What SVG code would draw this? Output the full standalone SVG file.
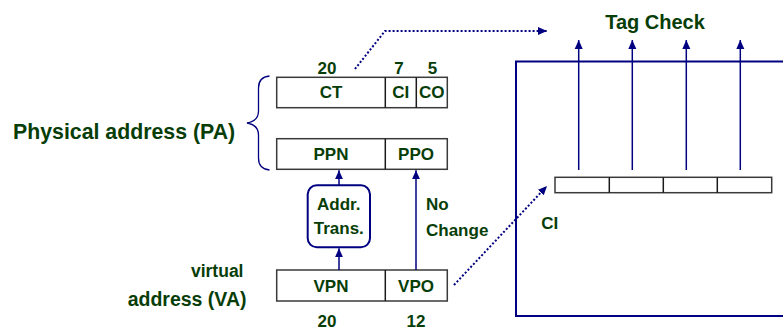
<svg xmlns="http://www.w3.org/2000/svg" width="783" height="330" viewBox="0 0 783 330">
  <style>
    .t { font-family: "Liberation Sans", Arial, sans-serif; font-weight: bold; fill: #073d07; font-size: 17px; }
    .c { text-anchor: middle; }
    .e { text-anchor: end; }
    .box { fill: #ffffff; stroke: #3a3a3a; stroke-width: 1.5; }
    .div { stroke: #1a1a1a; stroke-width: 1.5; fill: none; }
    .nav { stroke: #000080; fill: none; }
    .arr { stroke: #000080; stroke-width: 1.5; fill: none; marker-end: url(#ah); }
    .dot { stroke: #000080; stroke-width: 2; stroke-dasharray: 2 2; fill: none; marker-end: url(#ah); }
  </style>
  <defs>
    <marker id="ah" markerUnits="userSpaceOnUse" markerWidth="10" markerHeight="10" viewBox="0 0 10 10" refX="9" refY="5" orient="auto">
      <path d="M0,1 L9,5 L0,9 Z" fill="#000080"/>
    </marker>
  </defs>

  <rect width="783" height="330" fill="#ffffff"/>

  <g id="cache">
    <path class="nav" stroke-width="2" d="M790 61.5 H516 V316 H790"/>
    <rect class="box" x="555" y="177.3" width="216.7" height="15.4" stroke="#222" stroke-width="1"/>
    <line class="div" x1="609.3" y1="177.3" x2="609.3" y2="192.7"/>
    <line class="div" x1="663.3" y1="177.3" x2="663.3" y2="192.7"/>
    <line class="div" x1="717.3" y1="177.3" x2="717.3" y2="192.7"/>
    <text class="t c" x="549.7" y="228.5">CI</text>
  </g>

  <g id="tag-check">
    <text class="t c" x="655" y="29" style="font-size:20px">Tag Check</text>
  </g>

  <g id="pa-label">
    <text class="t" x="13" y="139" style="font-size:21.3px">Physical address (PA)</text>
    <path class="nav" stroke-width="1.3" d="M269.5 76 Q258.5 77 258.5 88 V111 Q258.5 121 247 123 Q258.5 125 258.5 135 V158 Q258.5 169 269.5 170"/>
  </g>

  <g id="pa-ct">
    <text class="t c" x="327" y="74">20</text>
    <text class="t c" x="399" y="74">7</text>
    <text class="t c" x="432.5" y="74">5</text>
    <rect class="box" x="276.7" y="77.3" width="170.6" height="30.4"/>
    <line class="div" x1="385.3" y1="77.3" x2="385.3" y2="107.7"/>
    <line class="div" x1="416.3" y1="77.3" x2="416.3" y2="107.7"/>
    <text class="t c" x="331" y="98">CT</text>
    <text class="t c" x="400.8" y="98">CI</text>
    <text class="t c" x="431.8" y="98">CO</text>
  </g>

  <g id="pa-ppn">
    <rect class="box" x="276.7" y="138.7" width="170.6" height="30.6"/>
    <line class="div" x1="385.3" y1="138.7" x2="385.3" y2="169.3"/>
    <text class="t c" x="331" y="160">PPN</text>
    <text class="t c" x="416" y="160">PPO</text>
  </g>

  <g id="addr-trans">
    <rect x="307.7" y="185.3" width="62.3" height="62" rx="9" ry="9" fill="#ffffff" stroke="#000080" stroke-width="2"/>
    <text class="t c" x="338.8" y="209.5">Addr.</text>
    <text class="t c" x="338.8" y="233.5">Trans.</text>
  </g>

  <g id="no-change">
    <text class="t" x="426" y="210">No</text>
    <text class="t" x="426" y="236">Change</text>
  </g>

  <g id="va">
    <text class="t e" x="243.5" y="277" style="font-size:17.5px">virtual</text>
    <text class="t e" x="246.5" y="306" style="font-size:19.5px">address (VA)</text>
    <rect class="box" x="276.7" y="270" width="170.6" height="31"/>
    <line class="div" x1="385.3" y1="270" x2="385.3" y2="301"/>
    <text class="t c" x="331" y="292">VPN</text>
    <text class="t c" x="416" y="292">VPO</text>
    <text class="t c" x="327" y="326.5">20</text>
    <text class="t c" x="416" y="326.5">12</text>
  </g>

  <g id="connectors">
    <line class="arr" x1="339" y1="185" x2="339" y2="170.3"/>
    <line class="arr" x1="339" y1="270" x2="339" y2="248.3"/>
    <line class="arr" x1="416" y1="270" x2="416" y2="170.3"/>
    <line class="arr" x1="578.7" y1="170" x2="578.7" y2="40"/>
    <line class="arr" x1="632.3" y1="170" x2="632.3" y2="40"/>
    <line class="arr" x1="686.3" y1="170" x2="686.3" y2="40"/>
    <line class="arr" x1="740.3" y1="170" x2="740.3" y2="40"/>
    <polyline class="dot" points="355,69 385,31 547,31"/>
    <line class="dot" x1="454" y1="285" x2="547" y2="186"/>
  </g>
</svg>
